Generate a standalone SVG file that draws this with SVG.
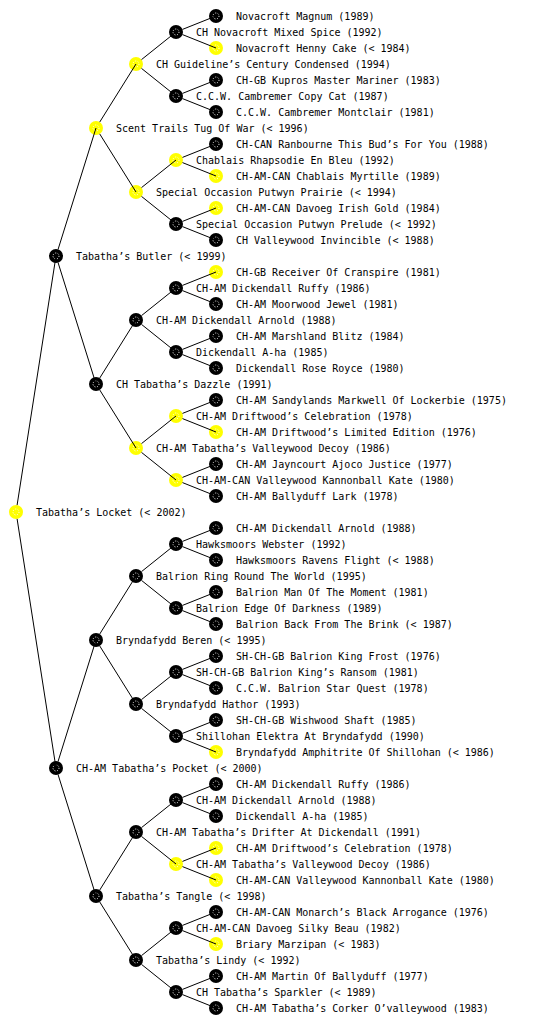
<svg xmlns="http://www.w3.org/2000/svg" xmlns:xlink="http://www.w3.org/1999/xlink" width="560" height="1024" viewBox="0 0 560 1024">
<style>
text{font-family:"DejaVu Sans Mono","Liberation Mono",monospace;font-size:10px;fill:#000}
#links path{stroke:#000;stroke-width:1;fill:none}
</style>
<defs>
<g id="kb"><circle r="7" fill="#000"/><circle r="3" fill="none" stroke="#fff" stroke-width="1" stroke-dasharray="1 1.6"/></g>
<g id="ky"><circle r="7" fill="#ffff00"/><circle r="3" fill="none" stroke="#fff" stroke-width="1" stroke-dasharray="1 1.6"/></g>
</defs>
<rect width="560" height="1024" fill="#fff"/>
<g id="nodes">
<g id="n0" transform="translate(16,512)"><use href="#ky"/><text x="20" y="4">Tabatha’s Locket (&lt; 2002)</text></g>
<g id="n1" transform="translate(56,256)"><use href="#kb"/><text x="20" y="4">Tabatha’s Butler (&lt; 1999)</text></g>
<g id="n2" transform="translate(56,768)"><use href="#kb"/><text x="20" y="4">CH-AM Tabatha’s Pocket (&lt; 2000)</text></g>
<g id="n3" transform="translate(96,128)"><use href="#ky"/><text x="20" y="4">Scent Trails Tug Of War (&lt; 1996)</text></g>
<g id="n4" transform="translate(96,384)"><use href="#kb"/><text x="20" y="4">CH Tabatha’s Dazzle (1991)</text></g>
<g id="n5" transform="translate(96,640)"><use href="#kb"/><text x="20" y="4">Bryndafydd Beren (&lt; 1995)</text></g>
<g id="n6" transform="translate(96,896)"><use href="#kb"/><text x="20" y="4">Tabatha’s Tangle (&lt; 1998)</text></g>
<g id="n7" transform="translate(136,64)"><use href="#ky"/><text x="20" y="4">CH Guideline’s Century Condensed (1994)</text></g>
<g id="n8" transform="translate(136,192)"><use href="#ky"/><text x="20" y="4">Special Occasion Putwyn Prairie (&lt; 1994)</text></g>
<g id="n9" transform="translate(136,320)"><use href="#kb"/><text x="20" y="4">CH-AM Dickendall Arnold (1988)</text></g>
<g id="n10" transform="translate(136,448)"><use href="#ky"/><text x="20" y="4">CH-AM Tabatha’s Valleywood Decoy (1986)</text></g>
<g id="n11" transform="translate(136,576)"><use href="#kb"/><text x="20" y="4">Balrion Ring Round The World (1995)</text></g>
<g id="n12" transform="translate(136,704)"><use href="#kb"/><text x="20" y="4">Bryndafydd Hathor (1993)</text></g>
<g id="n13" transform="translate(136,832)"><use href="#kb"/><text x="20" y="4">CH-AM Tabatha’s Drifter At Dickendall (1991)</text></g>
<g id="n14" transform="translate(136,960)"><use href="#kb"/><text x="20" y="4">Tabatha’s Lindy (&lt; 1992)</text></g>
<g id="n15" transform="translate(176,32)"><use href="#kb"/><text x="20" y="4">CH Novacroft Mixed Spice (1992)</text></g>
<g id="n16" transform="translate(176,96)"><use href="#kb"/><text x="20" y="4">C.C.W. Cambremer Copy Cat (1987)</text></g>
<g id="n17" transform="translate(176,160)"><use href="#ky"/><text x="20" y="4">Chablais Rhapsodie En Bleu (1992)</text></g>
<g id="n18" transform="translate(176,224)"><use href="#kb"/><text x="20" y="4">Special Occasion Putwyn Prelude (&lt; 1992)</text></g>
<g id="n19" transform="translate(176,288)"><use href="#kb"/><text x="20" y="4">CH-AM Dickendall Ruffy (1986)</text></g>
<g id="n20" transform="translate(176,352)"><use href="#kb"/><text x="20" y="4">Dickendall A-ha (1985)</text></g>
<g id="n21" transform="translate(176,416)"><use href="#ky"/><text x="20" y="4">CH-AM Driftwood’s Celebration (1978)</text></g>
<g id="n22" transform="translate(176,480)"><use href="#ky"/><text x="20" y="4">CH-AM-CAN Valleywood Kannonball Kate (1980)</text></g>
<g id="n23" transform="translate(176,544)"><use href="#kb"/><text x="20" y="4">Hawksmoors Webster (1992)</text></g>
<g id="n24" transform="translate(176,608)"><use href="#kb"/><text x="20" y="4">Balrion Edge Of Darkness (1989)</text></g>
<g id="n25" transform="translate(176,672)"><use href="#kb"/><text x="20" y="4">SH-CH-GB Balrion King’s Ransom (1981)</text></g>
<g id="n26" transform="translate(176,736)"><use href="#kb"/><text x="20" y="4">Shillohan Elektra At Bryndafydd (1990)</text></g>
<g id="n27" transform="translate(176,800)"><use href="#kb"/><text x="20" y="4">CH-AM Dickendall Arnold (1988)</text></g>
<g id="n28" transform="translate(176,864)"><use href="#ky"/><text x="20" y="4">CH-AM Tabatha’s Valleywood Decoy (1986)</text></g>
<g id="n29" transform="translate(176,928)"><use href="#kb"/><text x="20" y="4">CH-AM-CAN Davoeg Silky Beau (1982)</text></g>
<g id="n30" transform="translate(176,992)"><use href="#kb"/><text x="20" y="4">CH Tabatha’s Sparkler (&lt; 1989)</text></g>
<g id="n31" transform="translate(216,16)"><use href="#kb"/><text x="20" y="4">Novacroft Magnum (1989)</text></g>
<g id="n32" transform="translate(216,48)"><use href="#ky"/><text x="20" y="4">Novacroft Henny Cake (&lt; 1984)</text></g>
<g id="n33" transform="translate(216,80)"><use href="#kb"/><text x="20" y="4">CH-GB Kupros Master Mariner (1983)</text></g>
<g id="n34" transform="translate(216,112)"><use href="#kb"/><text x="20" y="4">C.C.W. Cambremer Montclair (1981)</text></g>
<g id="n35" transform="translate(216,144)"><use href="#kb"/><text x="20" y="4">CH-CAN Ranbourne This Bud’s For You (1988)</text></g>
<g id="n36" transform="translate(216,176)"><use href="#ky"/><text x="20" y="4">CH-AM-CAN Chablais Myrtille (1989)</text></g>
<g id="n37" transform="translate(216,208)"><use href="#ky"/><text x="20" y="4">CH-AM-CAN Davoeg Irish Gold (1984)</text></g>
<g id="n38" transform="translate(216,240)"><use href="#kb"/><text x="20" y="4">CH Valleywood Invincible (&lt; 1988)</text></g>
<g id="n39" transform="translate(216,272)"><use href="#ky"/><text x="20" y="4">CH-GB Receiver Of Cranspire (1981)</text></g>
<g id="n40" transform="translate(216,304)"><use href="#kb"/><text x="20" y="4">CH-AM Moorwood Jewel (1981)</text></g>
<g id="n41" transform="translate(216,336)"><use href="#kb"/><text x="20" y="4">CH-AM Marshland Blitz (1984)</text></g>
<g id="n42" transform="translate(216,368)"><use href="#kb"/><text x="20" y="4">Dickendall Rose Royce (1980)</text></g>
<g id="n43" transform="translate(216,400)"><use href="#kb"/><text x="20" y="4">CH-AM Sandylands Markwell Of Lockerbie (1975)</text></g>
<g id="n44" transform="translate(216,432)"><use href="#ky"/><text x="20" y="4">CH-AM Driftwood’s Limited Edition (1976)</text></g>
<g id="n45" transform="translate(216,464)"><use href="#kb"/><text x="20" y="4">CH-AM Jayncourt Ajoco Justice (1977)</text></g>
<g id="n46" transform="translate(216,496)"><use href="#kb"/><text x="20" y="4">CH-AM Ballyduff Lark (1978)</text></g>
<g id="n47" transform="translate(216,528)"><use href="#kb"/><text x="20" y="4">CH-AM Dickendall Arnold (1988)</text></g>
<g id="n48" transform="translate(216,560)"><use href="#kb"/><text x="20" y="4">Hawksmoors Ravens Flight (&lt; 1988)</text></g>
<g id="n49" transform="translate(216,592)"><use href="#kb"/><text x="20" y="4">Balrion Man Of The Moment (1981)</text></g>
<g id="n50" transform="translate(216,624)"><use href="#kb"/><text x="20" y="4">Balrion Back From The Brink (&lt; 1987)</text></g>
<g id="n51" transform="translate(216,656)"><use href="#kb"/><text x="20" y="4">SH-CH-GB Balrion King Frost (1976)</text></g>
<g id="n52" transform="translate(216,688)"><use href="#kb"/><text x="20" y="4">C.C.W. Balrion Star Quest (1978)</text></g>
<g id="n53" transform="translate(216,720)"><use href="#kb"/><text x="20" y="4">SH-CH-GB Wishwood Shaft (1985)</text></g>
<g id="n54" transform="translate(216,752)"><use href="#ky"/><text x="20" y="4">Bryndafydd Amphitrite Of Shillohan (&lt; 1986)</text></g>
<g id="n55" transform="translate(216,784)"><use href="#kb"/><text x="20" y="4">CH-AM Dickendall Ruffy (1986)</text></g>
<g id="n56" transform="translate(216,816)"><use href="#kb"/><text x="20" y="4">Dickendall A-ha (1985)</text></g>
<g id="n57" transform="translate(216,848)"><use href="#ky"/><text x="20" y="4">CH-AM Driftwood’s Celebration (1978)</text></g>
<g id="n58" transform="translate(216,880)"><use href="#ky"/><text x="20" y="4">CH-AM-CAN Valleywood Kannonball Kate (1980)</text></g>
<g id="n59" transform="translate(216,912)"><use href="#kb"/><text x="20" y="4">CH-AM-CAN Monarch’s Black Arrogance (1976)</text></g>
<g id="n60" transform="translate(216,944)"><use href="#ky"/><text x="20" y="4">Briary Marzipan (&lt; 1983)</text></g>
<g id="n61" transform="translate(216,976)"><use href="#kb"/><text x="20" y="4">CH-AM Martin Of Ballyduff (1977)</text></g>
<g id="n62" transform="translate(216,1008)"><use href="#kb"/><text x="20" y="4">CH-AM Tabatha’s Corker O’valleywood (1983)</text></g>
</g>
<g id="links">
<path d="M17.1,505.1L56,256M17.1,518.9L56,768"/>
<path d="M58.1,249.3L96,128M58.1,262.7L96,384M58.1,761.3L96,640M58.1,774.7L96,896"/>
<path d="M99.7,122.1L136,64M99.7,133.9L136,192M99.7,378.1L136,320M99.7,389.9L136,448M99.7,634.1L136,576M99.7,645.9L136,704M99.7,890.1L136,832M99.7,901.9L136,960"/>
<path d="M141.5,59.6L176,32M141.5,68.4L176,96M141.5,187.6L176,160M141.5,196.4L176,224M141.5,315.6L176,288M141.5,324.4L176,352M141.5,443.6L176,416M141.5,452.4L176,480M141.5,571.6L176,544M141.5,580.4L176,608M141.5,699.6L176,672M141.5,708.4L176,736M141.5,827.6L176,800M141.5,836.4L176,864M141.5,955.6L176,928M141.5,964.4L176,992"/>
<path d="M182.5,29.4L216,16M182.5,34.6L216,48M182.5,93.4L216,80M182.5,98.6L216,112M182.5,157.4L216,144M182.5,162.6L216,176M182.5,221.4L216,208M182.5,226.6L216,240M182.5,285.4L216,272M182.5,290.6L216,304M182.5,349.4L216,336M182.5,354.6L216,368M182.5,413.4L216,400M182.5,418.6L216,432M182.5,477.4L216,464M182.5,482.6L216,496M182.5,541.4L216,528M182.5,546.6L216,560M182.5,605.4L216,592M182.5,610.6L216,624M182.5,669.4L216,656M182.5,674.6L216,688M182.5,733.4L216,720M182.5,738.6L216,752M182.5,797.4L216,784M182.5,802.6L216,816M182.5,861.4L216,848M182.5,866.6L216,880M182.5,925.4L216,912M182.5,930.6L216,944M182.5,989.4L216,976M182.5,994.6L216,1008"/>
</g>
</svg>
